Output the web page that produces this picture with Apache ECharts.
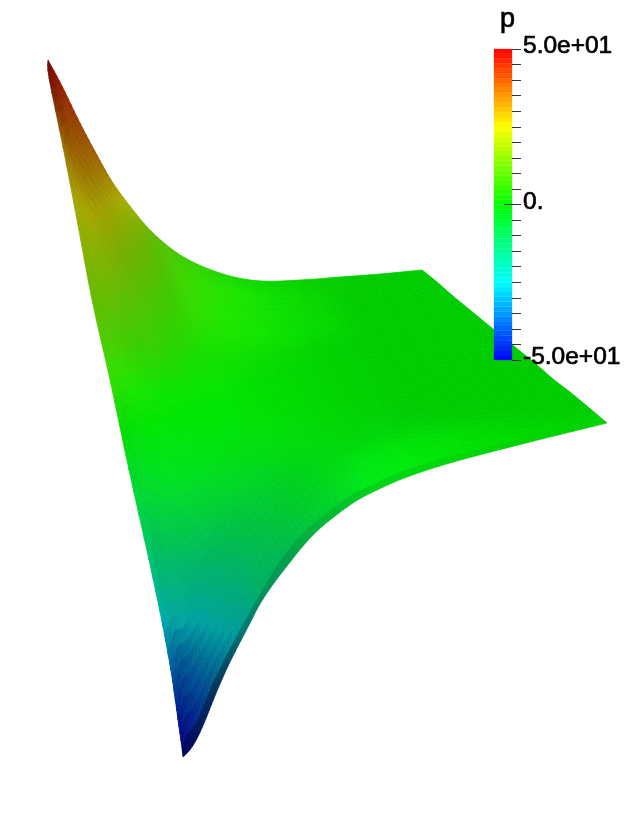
<!DOCTYPE html>
<html>
<head>
<meta charset="utf-8">
<style>html,body{margin:0;padding:0;background:#fff}#c{width:641px;height:832px}</style>
<script src="https://cdn.jsdelivr.net/npm/echarts@6/dist/echarts.min.js"></script>
</head>
<body>
<div id="c"></div>
<script>
var meshX = [
[48,62,80,97,113,133,150,173,197,230,262,300,340,380,422],
[49,73,90,107,122,142,159,182,206,240,271,309,349,392,437],
[63,85,101,117,133,152,169,192,217,250,281,318,360,406,453],
[77,97,112,128,143,163,179,203,228,261,291,328,370,419,470],
[92,109,123,139,154,173,190,213,238,272,301,337,381,433,487],
[110,120,134,150,164,183,200,223,249,283,311,347,391,446,503],
[129,132,145,161,175,193,210,233,260,294,321,357,402,460,520],
[149,144,156,171,186,204,220,244,270,304,331,366,413,473,537],
[163,155,167,182,196,214,230,254,281,315,341,376,423,487,553],
[173,167,178,193,207,224,240,264,291,326,351,386,434,500,570],
[178,179,189,204,217,234,251,274,302,337,361,395,444,514,587],
[182,187,197,211,225,243,260,284,311,346,370,404,453,526,601],
[183,192,202,217,230,247,263,287,315,350,373,407,457,530,607]];
var meshY = [
[60,86,123,155,183,210,230,250,264,276,281,280,277,274,270],
[78,142,171,198,221,243,259,275,286,294,297,295,291,287,282],
[147,200,224,246,264,281,292,303,311,315,316,312,308,302,296],
[220,258,278,294,307,318,325,331,335,336,335,329,324,317,310],
[300,317,332,342,350,356,358,360,359,357,353,347,340,332,324],
[380,375,386,390,393,393,391,388,383,378,372,364,356,347,337],
[470,433,439,437,436,431,425,416,407,398,390,381,372,362,351],
[560,492,493,485,479,469,458,444,431,419,409,398,389,377,365],
[627,550,547,533,522,506,491,472,455,440,427,415,405,392,379],
[683,608,601,581,565,544,524,500,479,461,446,432,421,407,392],
[720,667,654,629,608,581,557,529,504,482,464,449,437,422,406],
[748,735,722,688,659,625,595,556,526,499,486,471,456,438,418],
[757,747,728,691,662,629,599,566,533,505,492,477,461,442,423]];
var meshP = [
[50,46,40,36,30,22,14,9,6,3,1.5,1,0.5,0,0],
[48,36,32,26,21,15,11,7,5,3,1.5,1,0.5,0,0],
[32,27,23,19,14,11,8,6,4,2.5,1.5,1,0,0,0],
[23,18,15,12,10,7,6,4,3,2,1,0.5,0,0,0],
[14,11,9,7,6,4,3,2,1.5,1,0.5,0,0,0,0],
[6,5,3,2,1,1,0.5,0.5,0,0,0,0,0,0,0],
[-3,-1,-1,-1,-1,-1,-0.5,-0.5,0,0,0,0,0,0,0],
[-14,-5,-5,-4,-3.5,-3,-2,-1.5,-1,-0.5,0,0,0,0,0],
[-27,-11,-11,-9,-8,-6,-5,-3.5,-2,-1,-0.5,-0.5,0,0,0],
[-40,-21,-20,-17,-14,-11,-8,-6,-3.5,-2,-1,-1,-0.5,0,0],
[-47,-36,-33,-26,-21,-16,-12,-8,-5,-3,-2,-1,-0.5,0,0],
[-50,-48,-44,-36,-30,-23,-15,-11,-7,-4,-2.5,-1.5,-0.5,0,0],
[-50,-48,-44,-37,-31,-24,-17,-12,-8,-5,-3,-2,-1,0,0]];
var meshLight = [
[0.45,0.58,0.6,0.62,0.65,0.68,0.72,0.78,0.82,0.84,0.84,0.82,0.8,0.8,0.8],
[0.42,0.6,0.6,0.62,0.66,0.7,0.74,0.84,0.88,0.9,0.88,0.84,0.8,0.8,0.8],
[0.6,0.64,0.64,0.66,0.7,0.74,0.78,0.86,0.9,0.9,0.88,0.85,0.8,0.8,0.8],
[0.66,0.7,0.72,0.74,0.77,0.8,0.82,0.88,0.9,0.9,0.88,0.85,0.8,0.8,0.8],
[0.72,0.76,0.78,0.8,0.82,0.84,0.86,0.88,0.88,0.86,0.84,0.82,0.8,0.8,0.8],
[0.86,0.88,0.9,0.9,0.9,0.9,0.9,0.9,0.88,0.86,0.84,0.82,0.8,0.8,0.8],
[0.86,0.88,0.9,0.9,0.9,0.9,0.9,0.9,0.88,0.86,0.84,0.82,0.8,0.8,0.8],
[0.76,0.86,0.86,0.88,0.88,0.88,0.88,0.88,0.88,0.86,0.84,0.82,0.8,0.8,0.8],
[0.68,0.74,0.76,0.78,0.8,0.82,0.84,0.85,0.86,0.86,0.84,0.82,0.8,0.8,0.8],
[0.62,0.67,0.68,0.68,0.7,0.73,0.76,0.8,0.82,0.85,0.85,0.84,0.82,0.8,0.8],
[0.58,0.56,0.58,0.62,0.65,0.68,0.72,0.76,0.8,0.86,0.9,0.9,0.88,0.82,0.8],
[0.5,0.5,0.55,0.55,0.58,0.62,0.68,0.72,0.78,0.86,0.92,0.93,0.9,0.86,0.82],
[0.42,0.36,0.36,0.36,0.38,0.46,0.55,0.62,0.7,0.76,0.82,0.84,0.84,0.82,0.82]];
var rampStops = [[0,0,255],[0,255,255],[0,255,0],[255,255,0],[255,0,0]];
var scaleMin = -50, scaleMax = 50, scaleStep = 5, rampBands = 64;
var scaleLabels = {'50':'5.0e+01','0':'0.','-50':'-5.0e+01'};
var legendTitle = 'p';

function colourOf(p, light){
  var t = Math.max(0, Math.min(0.99999, (p - scaleMin) / (scaleMax - scaleMin))) * (rampStops.length - 1);
  var k = Math.floor(t), f = t - k, a = rampStops[k], b = rampStops[k + 1];
  return 'rgb(' + [0,1,2].map(function(c){ return Math.round((a[c] + (b[c] - a[c]) * f) * light); }).join(',') + ')';
}
function bil(m, i, j, u, v){
  return (m[i][j]*(1-u) + m[i][j+1]*u)*(1-v) + (m[i+1][j]*(1-u) + m[i+1][j+1]*u)*v;
}
function cr(a,b,c,d,t){
  return 0.5*((2*b)+(-a+c)*t+(2*a-5*b+4*c-d)*t*t+(-a+3*b-3*c+d)*t*t*t);
}
function smooth(m, i, j, u, v){
  var nc = m[0].length, nr = m.length;
  function rowAt(r){
    var R = m[Math.max(0, Math.min(nr-1, r))];
    return cr(R[Math.max(j-1,0)], R[j], R[j+1], R[Math.min(j+2,nc-1)], u);
  }
  if (i <= 8) return cr(rowAt(i-1), rowAt(i), rowAt(i+1), rowAt(i+2), v);
  return rowAt(i)*(1-v) + rowAt(i+1)*v;
}
var cells = [];
for (var r = 0; r < meshX.length - 1; r++) for (var q = 0; q < meshX[0].length - 1; q++) cells.push([meshX[r][q], meshY[r][q], r, q]);
var SUBU = 6, SUBV = 4;
function renderCell(params, api){
  var i = api.value(2), j = api.value(3), kids = [], last = i === meshX.length - 2;
  for (var a = 0; a < SUBU; a++) for (var b = 0; b < SUBV; b++) {
    var u0 = a/SUBU, u1 = (a+1)/SUBU, v0 = b/SUBV, v1 = (b+1)/SUBV, um = (u0+u1)/2, vm = (v0+v1)/2;
    var pts = [[u0,v0],[u1,v0],[u1,v1],[u0,v1]].map(function(t){
      return api.coord([smooth(meshX,i,j,t[0],t[1]), smooth(meshY,i,j,t[0],t[1])]);
    });
    var lt = bil(meshLight,i,j,um,last ? 1 : vm);
    var col = colourOf(bil(meshP,i,j,um,vm), lt);
    kids.push({type:'polygon', shape:{points:pts}, style:{fill:col, stroke:col, lineWidth:0.7}, silent:true});
  }
  return {type:'group', children:kids};
}
var bands = [];
for (var n = 0; n < rampBands; n++) bands.push([0, scaleMin + (scaleMax - scaleMin) * n / rampBands, scaleMin + (scaleMax - scaleMin) * (n + 1) / rampBands]);
function renderBand(params, api){
  var a = api.coord([0, api.value(1)]), b = api.coord([1, api.value(2)]);
  var mid = (api.value(1) + api.value(2)) / 2;
  var c = colourOf(mid, 1);
  return {type:'rect', shape:{x:a[0], y:b[1], width:b[0]-a[0], height:a[1]-b[1]}, style:{fill:c, stroke:c, lineWidth:0.3}};
}
function renderZeroTick(params, api){
  var a = api.coord([api.value(0), api.value(1)]), b = api.coord([1, api.value(1)]);
  return {type:'line', shape:{x1:a[0], y1:a[1], x2:b[0], y2:b[1]}, style:{stroke:'#333', lineWidth:1}};
}
var chart = echarts.init(document.getElementById('c'), null, {renderer:'canvas', width:641, height:832});
chart.setOption({
  animation:false,
  backgroundColor:'#fff',
  title:{text:legendTitle, left:495, top:1, textStyle:{fontFamily:'Liberation Sans', fontSize:27, fontWeight:'normal', color:'#000', textBorderColor:'#000', textBorderWidth:0.7}},
  grid:[
    {left:0, top:0, width:641, height:832},
    {left:494, top:49, width:18, height:311}
  ],
  xAxis:[
    {gridIndex:0, type:'value', min:0, max:641, show:false},
    {gridIndex:1, type:'value', min:0, max:1, show:false}
  ],
  yAxis:[
    {gridIndex:0, type:'value', min:0, max:832, inverse:true, show:false},
    {gridIndex:1, type:'value', position:'right', min:scaleMin, max:scaleMax, interval:scaleStep, z:10,
     splitLine:{show:false},
     axisLine:{show:true, onZero:false, lineStyle:{color:'rgba(0,0,0,0)', width:0}},
     axisTick:{show:true, length:9, inside:false, lineStyle:{color:'#333', width:1}},
     axisLabel:{show:true, margin:11, color:'#000', fontFamily:'Liberation Sans', fontSize:24.5,
       verticalAlign:'bottom', lineHeight:5,
       textBorderColor:'#000', textBorderWidth:0.7,
       hideOverlap:false, showMinLabel:true, showMaxLabel:true,
       formatter:function(v){ return scaleLabels[String(v)] || ''; }}}
  ],
  series:[
    {type:'custom', name:'surface', xAxisIndex:0, yAxisIndex:0, clip:false, silent:true, data:cells, renderItem:renderCell, z:1},
    {type:'custom', name:'ramp', xAxisIndex:1, yAxisIndex:1, clip:false, silent:true, data:bands, renderItem:renderBand, encode:{x:0, y:1}, z:2},
    {type:'custom', name:'zero tick', xAxisIndex:1, yAxisIndex:1, clip:false, silent:true, data:[[0.55,0]], renderItem:renderZeroTick, z:3}
  ]
});
</script>
</body>
</html>
